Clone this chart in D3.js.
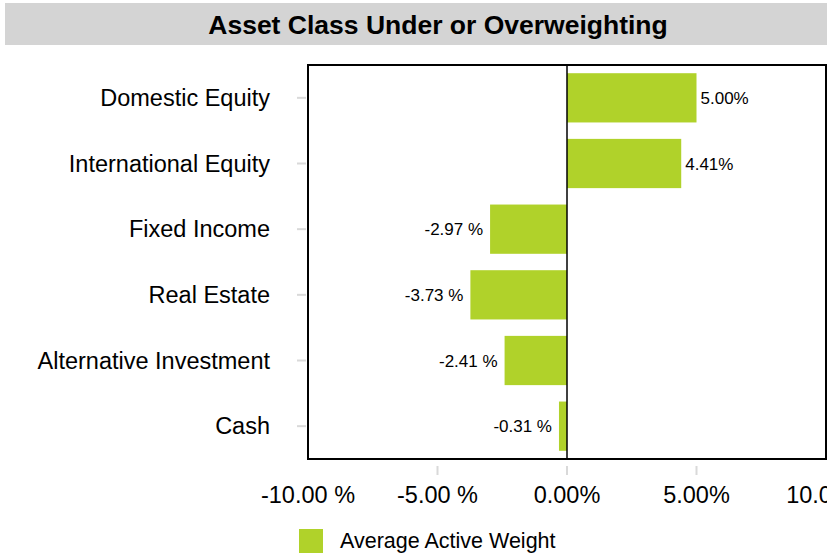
<!DOCTYPE html>
<html>
<head>
<meta charset="utf-8">
<script src="https://cdn.jsdelivr.net/npm/d3@7"></script>
<style>
  body { margin: 0; background: #fff; }
  text { font-family: Arial, "Liberation Sans", sans-serif; fill: #000; }
</style>
</head>
<body>
<script>
// Data
var categories = ["Domestic Equity", "International Equity", "Fixed Income", "Real Estate", "Alternative Investment", "Cash"];
var weights = [5.00, 4.41, -2.97, -3.73, -2.41, -0.31];
var tickValues = [-10, -5, 0, 5, 10];
var tickLabels = ["-10.00 %", "-5.00 %", "0.00%", "5.00%", "10.00%"];
var seriesName = "Average Active Weight";
var title = "Asset Class Under or Overweighting";

var width = 827, height = 556;
var green = "#b0d22a";

var svg = d3.select("body").append("svg")
  .attr("width", width)
  .attr("height", height);

// Title bar
svg.append("rect")
  .attr("x", 5).attr("y", 3)
  .attr("width", 822).attr("height", 42)
  .attr("fill", "#d4d4d4");
svg.append("text")
  .attr("x", 438).attr("y", 34)
  .attr("text-anchor", "middle")
  .style("font-size", "26.5px")
  .style("font-weight", "bold")
  .text(title);

// Scales
var plotLeft = 308, plotRight = 826, plotTop = 65, plotBottom = 459;
var x = d3.scaleLinear().domain([-10, 10]).range([plotLeft, plotRight]);
var y = d3.scaleBand().domain(categories).range([plotTop, plotBottom])
  .paddingInner(0.25).paddingOuter(0.125);

// Bars
svg.selectAll(".bar")
  .data(weights)
  .enter()
  .append("rect")
  .attr("class", "bar")
  .attr("x", function (d) { return x(Math.min(0, d)); })
  .attr("y", function (d, i) { return y(categories[i]); })
  .attr("width", function (d) { return Math.abs(x(d) - x(0)); })
  .attr("height", y.bandwidth())
  .attr("fill", green);

// Bar labels
svg.selectAll(".lbl")
  .data(weights)
  .enter()
  .append("text")
  .attr("class", "lbl")
  .attr("x", function (d) { return d >= 0 ? x(d) + 4 : x(d) - 7; })
  .attr("y", function (d, i) { return y(categories[i]) + y.bandwidth() / 2 + 6; })
  .attr("text-anchor", function (d) { return d >= 0 ? "start" : "end"; })
  .style("font-size", "17px")
  .text(function (d) { return d >= 0 ? d.toFixed(2) + "%" : d.toFixed(2) + " %"; });

// Zero line
svg.append("line")
  .attr("x1", x(0)).attr("x2", x(0))
  .attr("y1", plotTop).attr("y2", plotBottom)
  .attr("stroke", "#000").attr("stroke-width", 1.5);

// Frame
svg.append("rect")
  .attr("x", plotLeft).attr("y", plotTop)
  .attr("width", plotRight - plotLeft).attr("height", plotBottom - plotTop)
  .attr("fill", "none")
  .attr("stroke", "#000").attr("stroke-width", 2);

// Y axis ticks and labels
var yAxis = svg.append("g").selectAll("g")
  .data(categories)
  .enter()
  .append("g")
  .attr("transform", function (d) { return "translate(0," + (y(d) + y.bandwidth() / 2) + ")"; });
yAxis.append("line")
  .attr("x1", 297).attr("x2", 306)
  .attr("stroke", "#d9d9d9").attr("stroke-width", 2);
yAxis.append("text")
  .attr("x", 270).attr("y", 8)
  .attr("text-anchor", "end")
  .style("font-size", "23.5px")
  .text(function (d) { return d; });

// X axis ticks and labels
var xAxis = svg.append("g").selectAll("g")
  .data(tickValues)
  .enter()
  .append("g")
  .attr("transform", function (d) { return "translate(" + x(d) + ",0)"; });
xAxis.filter(function (d) { return d > -10 && d < 10; })
  .append("line")
  .attr("y1", 466).attr("y2", 475)
  .attr("stroke", "#d9d9d9").attr("stroke-width", 2);
xAxis.append("text")
  .attr("y", 503)
  .attr("text-anchor", "middle")
  .style("font-size", "23.5px")
  .text(function (d, i) { return tickLabels[i]; });

// Legend
svg.append("rect")
  .attr("x", 299).attr("y", 529)
  .attr("width", 24).attr("height", 24)
  .attr("fill", green);
svg.append("text")
  .attr("x", 340).attr("y", 548)
  .style("font-size", "21.5px")
  .text(seriesName);
</script>
</body>
</html>
